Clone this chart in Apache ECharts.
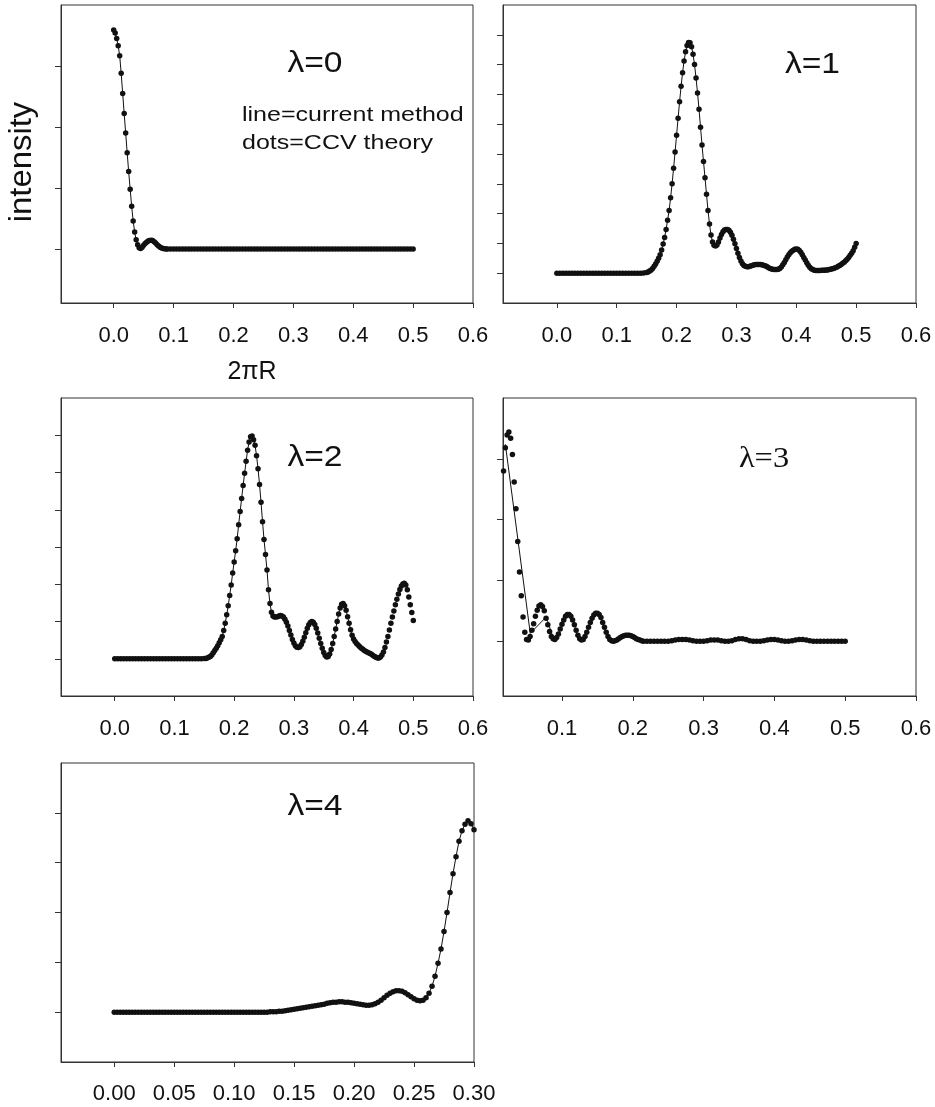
<!DOCTYPE html>
<html><head><meta charset="utf-8">
<script src="https://cdn.jsdelivr.net/npm/echarts@6.0.0/dist/echarts.min.js"></script>
<style>html,body{margin:0;padding:0;background:#fff}#c{width:935px;height:1107px}</style>
</head><body><div id="c"></div>
<script>
// ---- tick labels ----
const xTicksA = [0, 0.1, 0.2, 0.3, 0.4, 0.5, 0.6];
const xTicksB = [0.1, 0.2, 0.3, 0.4, 0.5, 0.6];
const xTicksC = [0, 0.05, 0.1, 0.15, 0.2, 0.25, 0.3];
const yTicks0 = [0, 1, 2, 3];
const yTicks1 = [0, 1, 2, 3, 4, 5, 6, 7, 8];
const yTicks2 = [0, 1, 2, 3, 4, 5, 6];
const yTicks3 = [0, 1, 2, 3];
const yTicks4 = [0, 1, 2, 3, 4];
const panelTitles = ['λ=0', 'λ=1', 'λ=2', 'λ=3', 'λ=4'];
const legendLines = ['line=current method', 'dots=CCV theory'];
const yName = 'intensity';
const xName = '2πR';

// ---- series values [2πR, intensity] ----
const lambda0 = [[0,3.59],[0.0025,3.54],[0.005,3.45],[0.0075,3.33],[0.01,3.17],[0.0125,2.88],[0.015,2.55],[0.0175,2.22],[0.02,1.9],[0.0225,1.58],[0.025,1.27],[0.0275,0.98],[0.03,0.7],[0.0325,0.46],[0.035,0.28],[0.0375,0.15],[0.04,0.07],[0.0425,0.02],[0.045,0.01],[0.0475,0.03],[0.05,0.06],[0.0525,0.09],[0.055,0.11],[0.0575,0.13],[0.06,0.14],[0.0625,0.145],[0.065,0.14],[0.0675,0.12],[0.07,0.1],[0.0725,0.07],[0.075,0.05],[0.0775,0.03],[0.08,0.015],[0.0825,0.01],[0.085,0.005],[0.0875,0],[0.09,0],[0.095,0],[0.1,0],[0.105,0],[0.11,0],[0.115,0],[0.12,0],[0.125,0],[0.13,0],[0.135,0],[0.14,0],[0.145,0],[0.15,0],[0.155,0],[0.16,0],[0.165,0],[0.17,0],[0.175,0],[0.18,0],[0.185,0],[0.19,0],[0.195,0],[0.2,0],[0.205,0],[0.21,0],[0.215,0],[0.22,0],[0.225,0],[0.23,0],[0.235,0],[0.24,0],[0.245,0],[0.25,0],[0.255,0],[0.26,0],[0.265,0],[0.27,0],[0.275,0],[0.28,0],[0.285,0],[0.29,0],[0.295,0],[0.3,0],[0.305,0],[0.31,0],[0.315,0],[0.32,0],[0.325,0],[0.33,0],[0.335,0],[0.34,0],[0.345,0],[0.35,0],[0.355,0],[0.36,0],[0.365,0],[0.37,0],[0.375,0],[0.38,0],[0.385,0],[0.39,0],[0.395,0],[0.4,0],[0.405,0],[0.41,0],[0.415,0],[0.42,0],[0.425,0],[0.43,0],[0.435,0],[0.44,0],[0.445,0],[0.45,0],[0.455,0],[0.46,0],[0.465,0],[0.47,0],[0.475,0],[0.48,0],[0.485,0],[0.49,0],[0.495,0],[0.5,0]];

const lambda1 = [[0,0],[0.005,0],[0.01,0],[0.015,0],[0.02,0],[0.025,0],[0.03,0],[0.035,0],[0.04,0],[0.045,0],[0.05,0],[0.055,0],[0.06,0],[0.065,0],[0.07,0],[0.075,0],[0.08,0],[0.085,0],[0.09,0],[0.095,0],[0.1,0],[0.105,0],[0.11,0],[0.115,0],[0.12,0],[0.125,0],[0.13,0],[0.135,0],[0.14,0],[0.145,0.01],[0.15,0.02],[0.1525,0.04],[0.155,0.07],[0.1575,0.11],[0.16,0.16],[0.1625,0.23],[0.165,0.31],[0.1675,0.4],[0.17,0.5],[0.1725,0.62],[0.175,0.78],[0.1775,0.98],[0.18,1.2],[0.1825,1.47],[0.185,1.78],[0.1875,2.1],[0.19,2.53],[0.1925,3.0],[0.195,3.52],[0.1975,4.07],[0.2,4.63],[0.2025,5.2],[0.205,5.75],[0.2075,6.27],[0.21,6.73],[0.2125,7.12],[0.215,7.43],[0.2175,7.64],[0.22,7.74],[0.2225,7.73],[0.225,7.6],[0.2275,7.35],[0.23,7.0],[0.2325,6.55],[0.235,6.05],[0.2375,5.5],[0.24,4.9],[0.2425,4.3],[0.245,3.75],[0.2475,3.2],[0.25,2.65],[0.2525,2.1],[0.255,1.65],[0.2575,1.28],[0.26,1.05],[0.2625,0.94],[0.265,0.91],[0.2675,0.95],[0.27,1.05],[0.2725,1.18],[0.275,1.3],[0.2775,1.39],[0.28,1.45],[0.2825,1.47],[0.285,1.47],[0.2875,1.44],[0.29,1.37],[0.2925,1.27],[0.295,1.14],[0.2975,0.99],[0.3,0.83],[0.3025,0.67],[0.305,0.53],[0.3075,0.41],[0.31,0.32],[0.3125,0.26],[0.315,0.23],[0.3175,0.22],[0.32,0.22],[0.3225,0.23],[0.325,0.25],[0.3275,0.27],[0.33,0.28],[0.3325,0.29],[0.335,0.29],[0.3375,0.29],[0.34,0.29],[0.3425,0.28],[0.345,0.27],[0.3475,0.25],[0.35,0.23],[0.3525,0.2],[0.355,0.17],[0.3575,0.15],[0.36,0.13],[0.3625,0.12],[0.365,0.12],[0.3675,0.12],[0.37,0.13],[0.3725,0.16],[0.375,0.21],[0.3775,0.28],[0.38,0.36],[0.3825,0.45],[0.385,0.54],[0.3875,0.62],[0.39,0.69],[0.3925,0.74],[0.395,0.77],[0.3975,0.8],[0.4,0.81],[0.4025,0.8],[0.405,0.76],[0.4075,0.7],[0.41,0.62],[0.4125,0.53],[0.415,0.44],[0.4175,0.35],[0.42,0.27],[0.4225,0.2],[0.425,0.15],[0.4275,0.12],[0.43,0.1],[0.4325,0.09],[0.435,0.09],[0.4375,0.09],[0.44,0.09],[0.4425,0.1],[0.445,0.1],[0.4475,0.1],[0.45,0.105],[0.4525,0.11],[0.455,0.12],[0.4575,0.13],[0.46,0.15],[0.4625,0.16],[0.465,0.18],[0.4675,0.2],[0.47,0.23],[0.4725,0.26],[0.475,0.29],[0.4775,0.33],[0.48,0.37],[0.4825,0.42],[0.485,0.47],[0.4875,0.53],[0.49,0.6],[0.4925,0.67],[0.495,0.75],[0.4975,0.87],[0.5,1.0]];

const lambda2 = [[0,0],[0.005,0],[0.01,0],[0.015,0],[0.02,0],[0.025,0],[0.03,0],[0.035,0],[0.04,0],[0.045,0],[0.05,0],[0.055,0],[0.06,0],[0.065,0],[0.07,0],[0.075,0],[0.08,0],[0.085,0],[0.09,0],[0.095,0],[0.1,0],[0.105,0],[0.11,0],[0.115,0],[0.12,0],[0.125,0],[0.13,0],[0.135,0],[0.14,0],[0.145,0],[0.15,0.01],[0.1525,0.01],[0.155,0.02],[0.1575,0.04],[0.16,0.06],[0.1625,0.1],[0.165,0.16],[0.1675,0.22],[0.17,0.28],[0.1725,0.35],[0.175,0.43],[0.1775,0.51],[0.18,0.6],[0.1825,0.76],[0.185,0.95],[0.1875,1.18],[0.19,1.42],[0.1925,1.7],[0.195,1.98],[0.1975,2.3],[0.2,2.6],[0.2025,2.9],[0.205,3.22],[0.2075,3.6],[0.21,3.95],[0.2125,4.3],[0.215,4.65],[0.2175,4.98],[0.22,5.3],[0.2225,5.6],[0.225,5.82],[0.2275,5.96],[0.23,5.98],[0.2325,5.88],[0.235,5.73],[0.2375,5.45],[0.24,5.1],[0.2425,4.68],[0.245,4.2],[0.2475,3.68],[0.25,3.2],[0.2525,2.8],[0.255,2.38],[0.2575,1.85],[0.26,1.48],[0.2625,1.25],[0.265,1.15],[0.2675,1.12],[0.27,1.12],[0.2725,1.13],[0.275,1.15],[0.2775,1.16],[0.28,1.15],[0.2825,1.12],[0.285,1.06],[0.2875,0.98],[0.29,0.88],[0.2925,0.76],[0.295,0.64],[0.2975,0.52],[0.3,0.42],[0.3025,0.35],[0.305,0.31],[0.3075,0.3],[0.31,0.32],[0.3125,0.38],[0.315,0.47],[0.3175,0.58],[0.32,0.7],[0.3225,0.82],[0.325,0.91],[0.3275,0.97],[0.33,1.0],[0.3325,0.98],[0.335,0.92],[0.3375,0.82],[0.34,0.69],[0.3425,0.55],[0.345,0.41],[0.3475,0.28],[0.35,0.17],[0.3525,0.09],[0.355,0.05],[0.3575,0.06],[0.36,0.13],[0.3625,0.25],[0.365,0.41],[0.3675,0.6],[0.37,0.8],[0.3725,1.0],[0.375,1.2],[0.3775,1.36],[0.38,1.46],[0.3825,1.48],[0.385,1.42],[0.3875,1.3],[0.39,1.13],[0.3925,0.95],[0.395,0.78],[0.3975,0.63],[0.4,0.53],[0.4025,0.46],[0.405,0.41],[0.4075,0.37],[0.41,0.33],[0.4125,0.29],[0.415,0.26],[0.4175,0.23],[0.42,0.2],[0.4225,0.18],[0.425,0.16],[0.4275,0.14],[0.43,0.12],[0.4325,0.09],[0.435,0.06],[0.4375,0.04],[0.44,0.02],[0.4425,0.02],[0.445,0.05],[0.4475,0.1],[0.45,0.18],[0.4525,0.3],[0.455,0.45],[0.4575,0.6],[0.46,0.77],[0.4625,0.95],[0.465,1.12],[0.4675,1.28],[0.47,1.45],[0.4725,1.6],[0.475,1.74],[0.4775,1.86],[0.48,1.95],[0.4825,2.01],[0.485,2.03],[0.4875,1.98],[0.49,1.85],[0.4925,1.66],[0.495,1.45],[0.4975,1.24],[0.5,1.03]];

const lambda3 = [[0.0175,2.8],[0.02,3.18],[0.0225,3.39],[0.025,3.44],[0.0275,3.34],[0.03,3.07],[0.0325,2.62],[0.035,2.18],[0.0375,1.64],[0.04,1.14],[0.0425,0.75],[0.045,0.4],[0.0475,0.15],[0.05,0.03],[0.0525,0.02],[0.055,0.08],[0.0575,0.18],[0.06,0.29],[0.0625,0.41],[0.065,0.51],[0.0675,0.58],[0.07,0.6],[0.0725,0.57],[0.075,0.5],[0.0775,0.38],[0.08,0.27],[0.0825,0.16],[0.085,0.08],[0.0875,0.04],[0.09,0.03],[0.0925,0.06],[0.095,0.12],[0.0975,0.2],[0.1,0.28],[0.1025,0.35],[0.105,0.41],[0.1075,0.44],[0.11,0.44],[0.1125,0.41],[0.115,0.35],[0.1175,0.27],[0.12,0.18],[0.1225,0.1],[0.125,0.04],[0.1275,0.02],[0.13,0.03],[0.1325,0.08],[0.135,0.15],[0.1375,0.23],[0.14,0.31],[0.1425,0.38],[0.145,0.43],[0.1475,0.46],[0.15,0.46],[0.1525,0.44],[0.155,0.39],[0.1575,0.31],[0.16,0.23],[0.1625,0.15],[0.165,0.08],[0.1675,0.03],[0.17,0.01],[0.1725,0],[0.175,0.01],[0.1775,0.02],[0.18,0.04],[0.1825,0.06],[0.185,0.08],[0.1875,0.09],[0.19,0.1],[0.1925,0.1],[0.195,0.1],[0.1975,0.09],[0.2,0.08],[0.2025,0.06],[0.205,0.04],[0.2075,0.03],[0.21,0.02],[0.2125,0.01],[0.215,0],[0.22,0],[0.225,0],[0.23,0],[0.235,0],[0.24,0],[0.245,0],[0.25,0],[0.255,0.01],[0.26,0.02],[0.265,0.03],[0.27,0.03],[0.275,0.03],[0.28,0.02],[0.285,0.01],[0.29,0],[0.295,0],[0.3,0],[0.305,0.01],[0.31,0.02],[0.315,0.02],[0.32,0.02],[0.325,0.01],[0.33,0],[0.335,0],[0.34,0.01],[0.345,0.03],[0.35,0.04],[0.355,0.04],[0.36,0.03],[0.365,0.01],[0.37,0],[0.375,0],[0.38,0],[0.385,0.01],[0.39,0.02],[0.395,0.03],[0.4,0.03],[0.405,0.02],[0.41,0.01],[0.415,0],[0.42,0],[0.425,0.01],[0.43,0.02],[0.435,0.03],[0.44,0.03],[0.445,0.02],[0.45,0.01],[0.455,0],[0.46,0],[0.465,0],[0.47,0],[0.475,0],[0.48,0],[0.485,0],[0.49,0],[0.495,0],[0.5,0]];
// coarse "current method" line for λ=3 at small 2πR (afterwards it follows the dots)
const lambda3LineStart = [[0.02,3.24],[0.0552,0.13],[0.0778,0.4],[0.088,0.04]];

const lambda4 = [[0,0],[0.0025,0],[0.005,0],[0.0075,0],[0.01,0],[0.0125,0],[0.015,0],[0.0175,0],[0.02,0],[0.0225,0],[0.025,0],[0.0275,0],[0.03,0],[0.0325,0],[0.035,0],[0.0375,0],[0.04,0],[0.0425,0],[0.045,0],[0.0475,0],[0.05,0],[0.0525,0],[0.055,0],[0.0575,0],[0.06,0],[0.0625,0],[0.065,0],[0.0675,0],[0.07,0],[0.0725,0],[0.075,0],[0.0775,0],[0.08,0],[0.0825,0],[0.085,0],[0.0875,0],[0.09,0],[0.0925,0],[0.095,0],[0.0975,0],[0.1,0],[0.1025,0],[0.105,0],[0.1075,0],[0.11,0],[0.1125,0],[0.115,0],[0.1175,0],[0.12,0],[0.1225,0],[0.125,0],[0.1275,0],[0.13,0.01],[0.1325,0.01],[0.135,0.01],[0.1375,0.02],[0.14,0.02],[0.1425,0.03],[0.145,0.04],[0.1475,0.05],[0.15,0.06],[0.1525,0.07],[0.155,0.08],[0.1575,0.09],[0.16,0.1],[0.1625,0.11],[0.165,0.12],[0.1675,0.13],[0.17,0.14],[0.1725,0.15],[0.175,0.16],[0.1775,0.18],[0.18,0.19],[0.1825,0.2],[0.185,0.2],[0.1875,0.21],[0.19,0.21],[0.1925,0.2],[0.195,0.2],[0.1975,0.19],[0.2,0.18],[0.2025,0.17],[0.205,0.16],[0.2075,0.15],[0.21,0.14],[0.2125,0.14],[0.215,0.15],[0.2175,0.17],[0.22,0.2],[0.2225,0.24],[0.225,0.29],[0.2275,0.34],[0.23,0.38],[0.2325,0.41],[0.235,0.43],[0.2375,0.43],[0.24,0.42],[0.2425,0.39],[0.245,0.35],[0.2475,0.31],[0.25,0.27],[0.2525,0.24],[0.255,0.23],[0.2575,0.24],[0.26,0.29],[0.2625,0.38],[0.265,0.52],[0.2675,0.72],[0.27,0.98],[0.2725,1.27],[0.275,1.62],[0.2775,2.0],[0.28,2.4],[0.2825,2.78],[0.285,3.12],[0.2875,3.43],[0.29,3.64],[0.2925,3.77],[0.295,3.84],[0.2975,3.78],[0.3,3.66]];

// ---- layout (pixels) ----
const INK = '#111111';
const FONT = '"Liberation Sans", Arial, sans-serif';
const panels = [
  { grid: {left: 61,  top: 5,   width: 412, height: 298}, x: [-0.088, 0.6],  y: [-0.885, 4], xt: xTicksA, yt: yTicks0, dec: 1, fs: 22, mg: 22, dots: lambda0, line: lambda0 },
  { grid: {left: 503, top: 5,   width: 413, height: 298}, x: [-0.09, 0.6],   y: [-1, 9],     xt: xTicksA, yt: yTicks1, dec: 1, fs: 22, mg: 22, dots: lambda1, line: lambda1 },
  { grid: {left: 61,  top: 398, width: 412, height: 298}, x: [-0.09, 0.6],   y: [-1, 7],     xt: xTicksA, yt: yTicks2, dec: 1, fs: 22, mg: 22, dots: lambda2, line: lambda2.filter(p => p[0] <= 0.44) },
  { grid: {left: 503, top: 398, width: 413, height: 298}, x: [0.0167, 0.6],  y: [-0.9, 4],   xt: xTicksB, yt: yTicks3, dec: 1, fs: 22, mg: 22, dots: lambda3, line: lambda3LineStart.concat(lambda3.filter(p => p[0] > 0.09)) },
  { grid: {left: 61,  top: 763, width: 413, height: 299}, x: [-0.0444, 0.3], y: [-1, 5],     xt: xTicksC, yt: yTicks4, dec: 2, fs: 22, mg: 21, dots: lambda4, line: lambda4 }
];

const grids = [], xAxes = [], yAxes = [], series = [];
panels.forEach((p, i) => {
  grids.push(Object.assign({ show: true, borderColor: '#333', borderWidth: 1, backgroundColor: 'transparent' }, p.grid));
  xAxes.push({
    type: 'value', gridIndex: i, min: p.x[0], max: p.x[1],
    axisLine: { show: true, onZero: false, lineStyle: { color: '#333', width: 1 } },
    axisTick: { show: true, inside: false, length: 5, customValues: p.xt, lineStyle: { color: '#333' } },
    axisLabel: { show: true, customValues: p.xt, margin: p.mg, color: INK, fontFamily: FONT, fontSize: p.fs,
                 formatter: v => Number(v).toFixed(p.dec) },
    splitLine: { show: false }
  });
  yAxes.push({
    type: 'value', gridIndex: i, min: p.y[0], max: p.y[1],
    axisLine: { show: true, onZero: false, lineStyle: { color: '#333', width: 1 } },
    axisTick: { show: true, inside: false, length: 6, customValues: p.yt, lineStyle: { color: '#333' } },
    axisLabel: { show: false },
    splitLine: { show: false }
  });
  series.push({
    type: 'scatter', xAxisIndex: i, yAxisIndex: i, data: p.dots,
    symbol: 'circle', symbolSize: 5.5, itemStyle: { color: INK, opacity: 1 }, silent: true, z: 2
  });
  series.push({
    type: 'line', xAxisIndex: i, yAxisIndex: i, data: p.line,
    symbol: 'none', showSymbol: false, lineStyle: { color: '#111', width: 1 }, silent: true, z: 3
  });
});

function txt(text, x, y, size, opts) {
  opts = opts || {};
  return {
    type: 'text', x: x, y: y, rotation: opts.rot || 0, scaleX: opts.sx || 1, silent: true, z: 10,
    style: { text: text, fill: INK, font: size + 'px ' + (opts.font || FONT),
             textAlign: opts.align || 'center', textVerticalAlign: 'middle',
             align: opts.align || 'center', verticalAlign: 'middle' }
  };
}

const graphics = [
  txt(yName, 22, 162, 31, { rot: Math.PI / 2, sx: 1.06 }),
  txt(xName, 252, 372, 25),
  txt(panelTitles[0], 315, 64, 30, { sx: 1.12 }),
  txt(legendLines[0], 242, 115.5, 20, { align: 'left', sx: 1.25 }),
  txt(legendLines[1], 242, 143.5, 20, { align: 'left', sx: 1.25 }),
  txt(panelTitles[1], 812.5, 65, 30, { sx: 1.12 }),
  txt(panelTitles[2], 315, 458, 30, { sx: 1.12 }),
  txt(panelTitles[3], 764, 459, 30, { sx: 1.08, font: '"Liberation Serif", "Times New Roman", serif' }),
  txt(panelTitles[4], 315, 807, 30, { sx: 1.12 })
];

const chart = echarts.init(document.getElementById('c'), null, { renderer: 'canvas' });
chart.setOption({
  backgroundColor: '#ffffff',
  animation: false,
  grid: grids,
  xAxis: xAxes,
  yAxis: yAxes,
  series: series,
  graphic: graphics
});
</script>
</body></html>
